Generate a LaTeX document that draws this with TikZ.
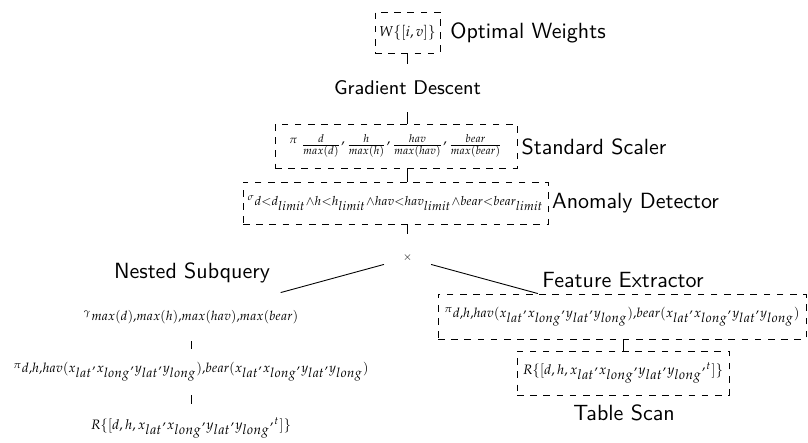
\documentclass[tikz,border=0pt]{standalone}
\usepackage{mathpazo}
% operator trees are set small; script size kept equal to the text size
\DeclareMathSizes{6.5}{6.5}{6.5}{5}
\DeclareMathSizes{6.2}{6.2}{6.2}{4.8}
\DeclareMathSizes{6}{6}{6}{4.7}
\DeclareMathSizes{5.9}{5.9}{5.9}{4.6}
\DeclareMathSizes{5.7}{5.7}{5.7}{4.5}
\newcommand\pxl{0.4545pt}
\newcommand\opx{\scriptscriptstyle}
\newcommand\rc{{}^{,}}
\newcommand\cm{{,}}
\tikzset{
  op/.style={font=\fontsize{6.5}{8}\selectfont, inner sep=0pt},
  opbox/.style={op, draw, dashed},
  tag/.style={font=\sffamily, inner sep=0pt},
  hid/.style={op, minimum height=48*\pxl},
  fsz/.style={font=\fontsize{#1}{8}\selectfont}
}
\begin{document}
\begin{tikzpicture}[x=0.4545pt, y=-0.4545pt]
\useasboundingbox (0,0) rectangle (808,442);

% main chain
\node[opbox, minimum width=65*\pxl, minimum height=41*\pxl] (W) at (407.5,32.5) {$W\{[i,v]\}$};
\node[tag] (tW) at (528,33) {Optimal Weights};

\node[hid, font=\sffamily\small] (GD) at (407.5,88) {Gradient Descent};

\node[opbox, minimum width=242*\pxl, minimum height=44*\pxl] (SS) at (396,146)
  {${}^{\opx\pi}\,\frac{\opx d}{\opx max(d)}\rc\frac{\opx h}{\opx max(h)}\rc\frac{\opx hav}{\opx max(hav)}\rc\frac{\opx bear}{\opx max(bear)}$};
\node[tag] (tSS) at (594,147) {Standard Scaler};

\node[opbox, fsz=5.7, minimum width=305*\pxl, minimum height=42*\pxl] (AD) at (395.5,203)
  {${}^{\opx\sigma}d{<}d_{limit}{\wedge}h{<}h_{limit}{\wedge}hav{<}hav_{limit}{\wedge}bear{<}bear_{limit}$};
\node[tag] (tAD) at (635.5,203) {Anomaly Detector};

\node[op, circle, minimum size=48*\pxl] (J) at (407.5,258) {$\opx\times$};

% nested subquery
\node[tag] (tNS) at (192,273) {Nested Subquery};
\node[hid, fsz=5.9] (G) at (191,317) {${}^{\opx\gamma}max(d)\cm max(h)\cm max(hav)\cm max(bear)$};
\node[hid, fsz=6, minimum height=46*\pxl] (P1) at (191,372)
  {${}^{\opx\pi}d\cm h\cm hav(x_{lat}\rc x_{long}\rc y_{lat}\rc y_{long})\cm bear(x_{lat}\rc x_{long}\rc y_{lat}\rc y_{long})$};
\node[hid, fsz=6.2] (R1) at (191,428) {$R\{[d,h,x_{lat}\rc x_{long}\rc y_{lat}\rc y_{long}\rc{}^{\opx t}]\}$};

% feature extractor
\node[tag] (tFE) at (623,280) {Feature Extractor};
\node[opbox, fsz=6, minimum width=368*\pxl, minimum height=45*\pxl] (P2) at (622,316.5)
  {${}^{\opx\pi}d\cm h\cm hav(x_{lat}\rc x_{long}\rc y_{lat}\rc y_{long})\cm bear(x_{lat}\rc x_{long}\rc y_{lat}\rc y_{long})$};
\node[opbox, fsz=6.2, minimum width=212*\pxl, minimum height=44*\pxl] (R2) at (623,373)
  {$R\{[d,h,x_{lat}\rc x_{long}\rc y_{lat}\rc y_{long}\rc{}^{\opx t}]\}$};
\node[tag] (tTS) at (624,413) {Table Scan};

% connectors
\draw (W.south) -- (GD.north);
\draw (GD.south) -- (GD.south |- SS.north);
\draw (SS.south -| GD) -- (AD.north -| GD);
\draw (AD.south -| J) -- (J.north);
\draw (J) -- (G);
\draw (J) -- (P2);
\draw (G) -- (P1);
\draw (P1) -- (R1);
\draw (P2.south -| R2) -- (R2.north);
\end{tikzpicture}
\end{document}
